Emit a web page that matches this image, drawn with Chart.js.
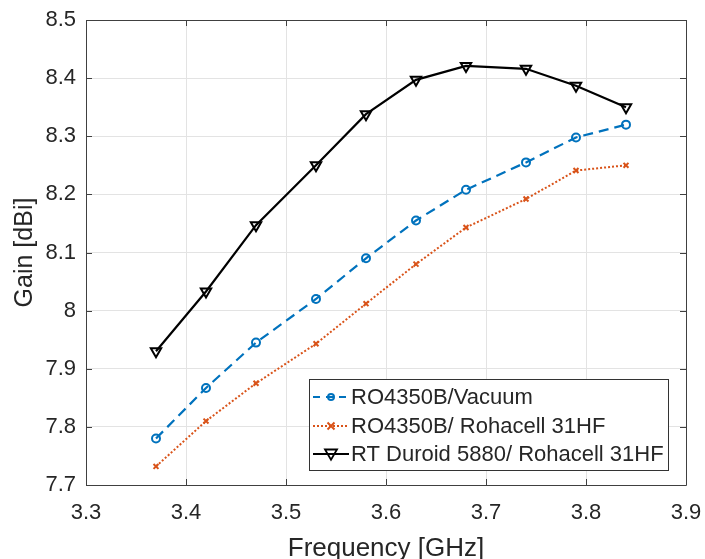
<!DOCTYPE html>
<html>
<head>
<meta charset="utf-8">
<script src="https://cdn.jsdelivr.net/npm/chart.js@4/dist/chart.umd.min.js"></script>
<style>
  html, body { margin: 0; padding: 0; background: #fff; }
  #wrap { width: 705px; height: 559px; }
</style>
</head>
<body>
<div id="wrap"><canvas id="gainChart"></canvas></div>
<script>
// values
const freqGHz = [3.37, 3.42, 3.47, 3.53, 3.58, 3.63, 3.68, 3.74, 3.79, 3.84];
const gainVacuum = [7.78, 7.867, 7.945, 8.02, 8.09, 8.155, 8.208, 8.255, 8.298, 8.32];
const gainRohacell = [7.732, 7.81, 7.875, 7.943, 8.012, 8.08, 8.143, 8.192, 8.241, 8.25];
const gainDuroid = [7.93, 8.033, 8.147, 8.25, 8.338, 8.397, 8.421, 8.416, 8.387, 8.35];
const seriesNames = ["RO4350B/Vacuum", "RO4350B/ Rohacell 31HF", "RT Duroid 5880/ Rohacell 31HF"];
const xTicks = [3.3, 3.4, 3.5, 3.6, 3.7, 3.8, 3.9];
const yTicks = [7.7, 7.8, 7.9, 8.0, 8.1, 8.2, 8.3, 8.4, 8.5];

const FONT = "'Liberation Sans', Arial, Helvetica, sans-serif";
const TEXT = "#262626";

function toPoints(ys) {
  return freqGHz.map((x, i) => ({ x: x, y: ys[i] }));
}

const styles = [
  { color: "#0072BD", dash: [10, 6], marker: "circle", radius: 4, width: 2.2 },
  { color: "#D95319", dash: [2, 2], marker: "crossRot", radius: 3.5, width: 2 },
  { color: "#000000", dash: [], marker: "triangle", radius: 6, width: 2.2 },
];

function drawMarker(ctx, st, x, y) {
  ctx.save();
  ctx.setLineDash([]);
  ctx.strokeStyle = st.color;
  ctx.lineWidth = st.marker == "triangle" ? 1.8 : 2;
  ctx.beginPath();
  if (st.marker == "circle") {
    ctx.arc(x, y, st.radius, 0, Math.PI * 2);
  } else if (st.marker == "crossRot") {
    let r = st.radius;
    ctx.moveTo(x - r, y - r); ctx.lineTo(x + r, y + r);
    ctx.moveTo(x + r, y - r); ctx.lineTo(x - r, y + r);
  } else {
    let r = st.radius;
    ctx.moveTo(x - r, y - r * 0.75);
    ctx.lineTo(x + r, y - r * 0.75);
    ctx.lineTo(x, y + r * 0.95);
    ctx.closePath();
  }
  ctx.stroke();
  ctx.restore();
}

// box, inward tick marks and the legend (MATLAB look)
const boxPlugin = {
  id: "boxPlugin",
  afterDraw(chart) {
    const ctx = chart.ctx;
    const a = chart.chartArea;
    const xs = chart.scales.x, ys = chart.scales.y;
    ctx.save();
    ctx.strokeStyle = "#404040";
    ctx.lineWidth = 1;
    ctx.beginPath();
    ctx.rect(Math.round(a.left) + 0.5, Math.round(a.top) + 0.5, Math.round(a.right - a.left), Math.round(a.bottom - a.top));
    const tl = 6;
    xTicks.forEach(v => {
      let px = Math.round(xs.getPixelForValue(v)) + 0.5;
      ctx.moveTo(px, a.bottom); ctx.lineTo(px, a.bottom - tl);
      ctx.moveTo(px, a.top); ctx.lineTo(px, a.top + tl);
    });
    yTicks.forEach(v => {
      let py = Math.round(ys.getPixelForValue(v)) + 0.5;
      ctx.moveTo(a.left, py); ctx.lineTo(a.left + tl, py);
      ctx.moveTo(a.right, py); ctx.lineTo(a.right - tl, py);
    });
    ctx.stroke();

    // legend
    const lx = 309.5, ly = 379.5, lw = 359, lh = 91;
    ctx.fillStyle = "#ffffff";
    ctx.fillRect(lx, ly, lw, lh);
    ctx.strokeStyle = "#333333";
    ctx.strokeRect(lx, ly, lw, lh);
    const rows = [397, 426, 454];
    ctx.font = "22px " + FONT;
    ctx.textBaseline = "middle";
    ctx.textAlign = "left";
    seriesNames.forEach((name, i) => {
      const st = styles[i];
      ctx.save();
      ctx.strokeStyle = st.color;
      ctx.lineWidth = st.width;
      ctx.setLineDash(i == 0 ? [7, 6] : st.dash);
      ctx.beginPath();
      ctx.moveTo(313, rows[i]); ctx.lineTo(349, rows[i]);
      ctx.stroke();
      ctx.restore();
      drawMarker(ctx, Object.assign({}, st, { radius: i == 0 ? 3 : st.radius }), 331, rows[i]);
      ctx.fillStyle = TEXT;
      ctx.fillText(name, 351, rows[i] + 1);
    });
    ctx.restore();
  },
};

const ctx = document.getElementById("gainChart");
new Chart(ctx, {
  type: "line",
  data: {
    datasets: [gainVacuum, gainRohacell, gainDuroid].map((ys, i) => ({
      label: seriesNames[i],
      data: toPoints(ys),
      borderColor: styles[i].color,
      backgroundColor: "transparent",
      borderWidth: styles[i].width,
      borderDash: styles[i].dash,
      pointStyle: styles[i].marker,
      pointRadius: styles[i].radius,
      pointBorderWidth: 2,
      pointBorderColor: styles[i].color,
      pointBackgroundColor: "transparent",
      pointRotation: styles[i].marker == "triangle" ? 180 : 0,
      tension: 0,
      fill: false,
    })),
  },
  options: {
    responsive: true,
    maintainAspectRatio: false,
    animation: false,
    layout: { padding: { left: 0, right: 19, top: 20, bottom: 0 } },
    plugins: {
      legend: { display: false },
      tooltip: { enabled: false },
    },
    scales: {
      x: {
        type: "linear",
        min: 3.3,
        max: 3.9,
        afterBuildTicks: (scale) => {
          scale.ticks = xTicks.map(v => ({ value: v }));
        },
        afterFit: (scale) => {
          scale.height = 74;
          scale.paddingLeft = 0;
          scale.paddingRight = 0;
        },
        ticks: {
          color: TEXT,
          font: { family: FONT, size: 22 },
          padding: 15,
          maxRotation: 0,
          callback: (v) => v.toFixed(1),
        },
        grid: { color: "#e3e3e3", drawTicks: false },
        border: { display: false },
        title: {
          display: true,
          text: "Frequency [GHz]",
          color: TEXT,
          font: { family: FONT, size: 26 },
          padding: { top: 0, bottom: -5 },
        },
      },
      y: {
        type: "linear",
        min: 7.7,
        max: 8.5,
        afterBuildTicks: (scale) => {
          scale.ticks = yTicks.map(v => ({ value: v }));
        },
        afterFit: (scale) => {
          scale.width = 86;
          scale.paddingTop = 0;
          scale.paddingBottom = 0;
        },
        ticks: {
          color: TEXT,
          font: { family: FONT, size: 22 },
          padding: 10,
          callback: (v) => String(Math.round(v * 10) / 10),
        },
        grid: { color: "#e3e3e3", drawTicks: false },
        border: { display: false },
        title: {
          display: true,
          text: "Gain [dBi]",
          color: TEXT,
          font: { family: FONT, size: 25 },
          padding: { top: 10, bottom: 0 },
        },
      },
    },
  },
  plugins: [boxPlugin],
});
</script>
</body>
</html>
